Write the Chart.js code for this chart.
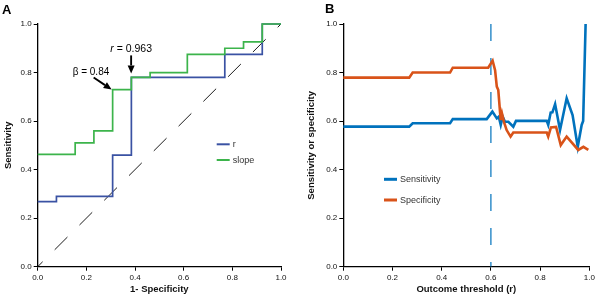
<!DOCTYPE html>
<html>
<head>
<meta charset="utf-8">
<script src="https://cdn.jsdelivr.net/npm/chart.js@4.4.1/dist/chart.umd.min.js"></script>
<style>
  body { margin: 0; background: #fff; width: 600px; height: 298px; overflow: hidden; }
  .wrap { position: absolute; top: 0; width: 300px; height: 298px; }
  .tag { position: absolute; font: bold 13px "Liberation Sans", Arial, sans-serif; color: #000; }
</style>
</head>
<body>
<div class="wrap" style="left:0"><canvas id="rocChart" width="300" height="298"></canvas></div>
<div class="wrap" style="left:300px"><canvas id="threshChart" width="300" height="298"></canvas></div>
<div class="tag" style="left:2px;top:2px">A</div>
<div class="tag" style="left:325px;top:1px">B</div>
<script>
// panel A: ROC curves (1-specificity vs sensitivity), step points
const fprR   = [0, 0.077, 0.308, 0.385, 0.769, 0.923, 1];
const tprR   = [0.268, 0.29, 0.46, 0.78, 0.875, 1, 1];
const fprSlope = [0, 0.154, 0.231, 0.308, 0.385, 0.462, 0.615, 0.769, 0.846, 0.923, 1];
const tprSlope = [0.463, 0.51, 0.56, 0.73, 0.78, 0.80, 0.875, 0.90, 0.926, 1, 1];
const tickVals = [0, 0.2, 0.4, 0.6, 0.8, 1.0];

// panel B: sensitivity / specificity against outcome threshold
const sensX = [0, 0.268, 0.282, 0.434, 0.445, 0.583, 0.606, 0.624, 0.632, 0.640, 0.648, 0.657, 0.671, 0.691, 0.702, 0.827, 0.833, 0.843, 0.850, 0.861, 0.881, 0.908, 0.932, 0.953, 0.969, 0.975, 0.985];
const sensY = [0.577, 0.577, 0.591, 0.591, 0.608, 0.608, 0.639, 0.611, 0.618, 0.584, 0.618, 0.597, 0.597, 0.577, 0.601, 0.601, 0.584, 0.635, 0.636, 0.670, 0.563, 0.694, 0.625, 0.494, 0.584, 0.60, 1.0];
const specX = [0, 0.268, 0.282, 0.434, 0.445, 0.589, 0.607, 0.617, 0.624, 0.630, 0.637, 0.640, 0.645, 0.653, 0.664, 0.680, 0.691, 0.827, 0.833, 0.844, 0.865, 0.884, 0.908, 0.955, 0.976, 0.996];
const specY = [0.779, 0.779, 0.80, 0.80, 0.82, 0.82, 0.849, 0.81, 0.742, 0.728, 0.639, 0.604, 0.632, 0.597, 0.563, 0.536, 0.553, 0.553, 0.536, 0.574, 0.576, 0.501, 0.536, 0.481, 0.494, 0.481];
const cutoff = 0.6;

const FONT = '"Liberation Sans", Arial, sans-serif';
Chart.defaults.font.family = FONT;
Chart.defaults.color = '#111';

const pts = (xs, ys) => xs.map((x, i) => ({x: x, y: ys[i]}));

function axis(title, size) {
  return {
    type: 'linear', min: 0, max: 1,
    afterBuildTicks: s => { s.ticks = tickVals.map(v => ({value: v})); },
    ticks: { callback: v => v.toFixed(1), font: {size: 8}, padding: 2, color: '#111' },
    grid: { drawOnChartArea: false, tickLength: 4, color: '#000', lineWidth: 1 },
    border: { color: '#000', width: 1.3 },
    title: { display: true, text: title, font: {size: 9.5, weight: 'bold'}, color: '#111', padding: {top: 3, bottom: 3} },
    afterFit: size
  };
}

function arrow(ctx, x1, y1, x2, y2) {
  const a = Math.atan2(y2 - y1, x2 - x1), h = 8, w = 3.5;
  const bx = x2 - h * Math.cos(a), by = y2 - h * Math.sin(a);
  ctx.beginPath(); ctx.moveTo(x1, y1); ctx.lineTo(bx, by); ctx.stroke();
  ctx.beginPath();
  ctx.moveTo(x2, y2);
  ctx.lineTo(bx + w * Math.sin(a), by - w * Math.cos(a));
  ctx.lineTo(bx - w * Math.sin(a), by + w * Math.cos(a));
  ctx.closePath(); ctx.fill();
}

function legend(ctx, items, x, y, gap, lw) {
  ctx.font = '9px ' + FONT;
  ctx.textBaseline = 'middle';
  items.forEach((it, i) => {
    const yy = y + i * gap;
    ctx.strokeStyle = it[1]; ctx.lineWidth = lw;
    ctx.beginPath(); ctx.moveTo(x, yy); ctx.lineTo(x + 13, yy); ctx.stroke();
    ctx.fillStyle = '#333';
    ctx.fillText(it[0], x + 16, yy + 0.5);
  });
}

// A
new Chart(document.getElementById('rocChart'), {
  type: 'scatter',
  data: {
    datasets: [
      { label: 'slope', data: pts(fprSlope, tprSlope), showLine: true, stepped: 'before', borderColor: '#3cb44b', borderWidth: 1.7, pointRadius: 0, clip: false },
      { label: 'r', data: pts(fprR, tprR), showLine: true, stepped: 'before', borderColor: '#3a52a3', borderWidth: 1.7, pointRadius: 0, clip: false },
      { label: 'chance', data: pts([0, 1], [0, 1]), showLine: true, borderColor: '#000', borderWidth: 0.9, borderDash: [18, 17], borderDashOffset: 11, pointRadius: 0 }
    ]
  },
  options: {
    responsive: false, devicePixelRatio: 1, animation: false,
    layout: { padding: {top: 24, right: 19, left: 0, bottom: 0} },
    plugins: { legend: {display: false}, tooltip: {enabled: false} },
    scales: {
      x: axis('1- Specificity', s => { s.height = 31.3; }),
      y: axis('Sensitivity', s => { s.width = 37.7; })
    }
  },
  plugins: [{
    id: 'notes',
    afterDatasetsDraw(chart) {
      const ctx = chart.ctx, sx = chart.scales.x, sy = chart.scales.y;
      ctx.save();
      ctx.strokeStyle = '#000'; ctx.fillStyle = '#000'; ctx.lineWidth = 1.9;
      const bx = sx.getPixelForValue(0.304), by = sy.getPixelForValue(0.73);
      arrow(ctx, bx - 18, by - 12, bx, by);
      const rx = sx.getPixelForValue(0.384), ry = sy.getPixelForValue(0.78) - 4;
      arrow(ctx, rx, ry - 18, rx, ry);
      ctx.font = '10px ' + FONT; ctx.textBaseline = 'middle';
      ctx.fillText('\u03b2 = 0.84', bx - 39, by - 17);
      ctx.font = 'italic 10.5px ' + FONT;
      const w1 = ctx.measureText('r').width;
      ctx.font = '10.5px ' + FONT;
      const rest = ' = 0.963', w2 = ctx.measureText(rest).width;
      const tx = rx - (w1 + w2) / 2;
      ctx.font = 'italic 10.5px ' + FONT; ctx.fillText('r', tx, ry - 24);
      ctx.font = '10.5px ' + FONT; ctx.fillText(rest, tx + w1, ry - 24);
      legend(ctx, [['r', '#3a52a3'], ['slope', '#3cb44b']], 216.7, 144.3, 15.7, 2);
      ctx.restore();
    }
  }]
});

// B
new Chart(document.getElementById('threshChart'), {
  type: 'scatter',
  data: {
    datasets: [
      { label: 'Specificity', data: pts(specX, specY), showLine: true, borderColor: '#D95319', borderWidth: 2.6, pointRadius: 0, clip: false },
      { label: 'Sensitivity', data: pts(sensX, sensY), showLine: true, borderColor: '#0072BD', borderWidth: 2.6, pointRadius: 0, clip: false },
      { label: 'cutoff', data: pts([cutoff, cutoff], [1, 0]), showLine: true, borderColor: '#0072BD', borderWidth: 1.2, borderDash: [17, 17], pointRadius: 0 }
    ]
  },
  options: {
    responsive: false, devicePixelRatio: 1, animation: false,
    layout: { padding: {top: 24, right: 10.7, left: 3, bottom: 0} },
    plugins: { legend: {display: false}, tooltip: {enabled: false} },
    scales: {
      x: axis('Outcome threshold (r)', s => { s.height = 31.3; }),
      y: axis('Sensitivity or specificity', s => { s.width = 40.3; })
    }
  },
  plugins: [{
    id: 'notes',
    afterDatasetsDraw(chart) {
      const ctx = chart.ctx;
      ctx.save();
      legend(ctx, [['Sensitivity', '#0072BD'], ['Specificity', '#D95319']], 84, 179.3, 20.7, 3);
      ctx.restore();
    }
  }]
});
</script>
</body>
</html>
